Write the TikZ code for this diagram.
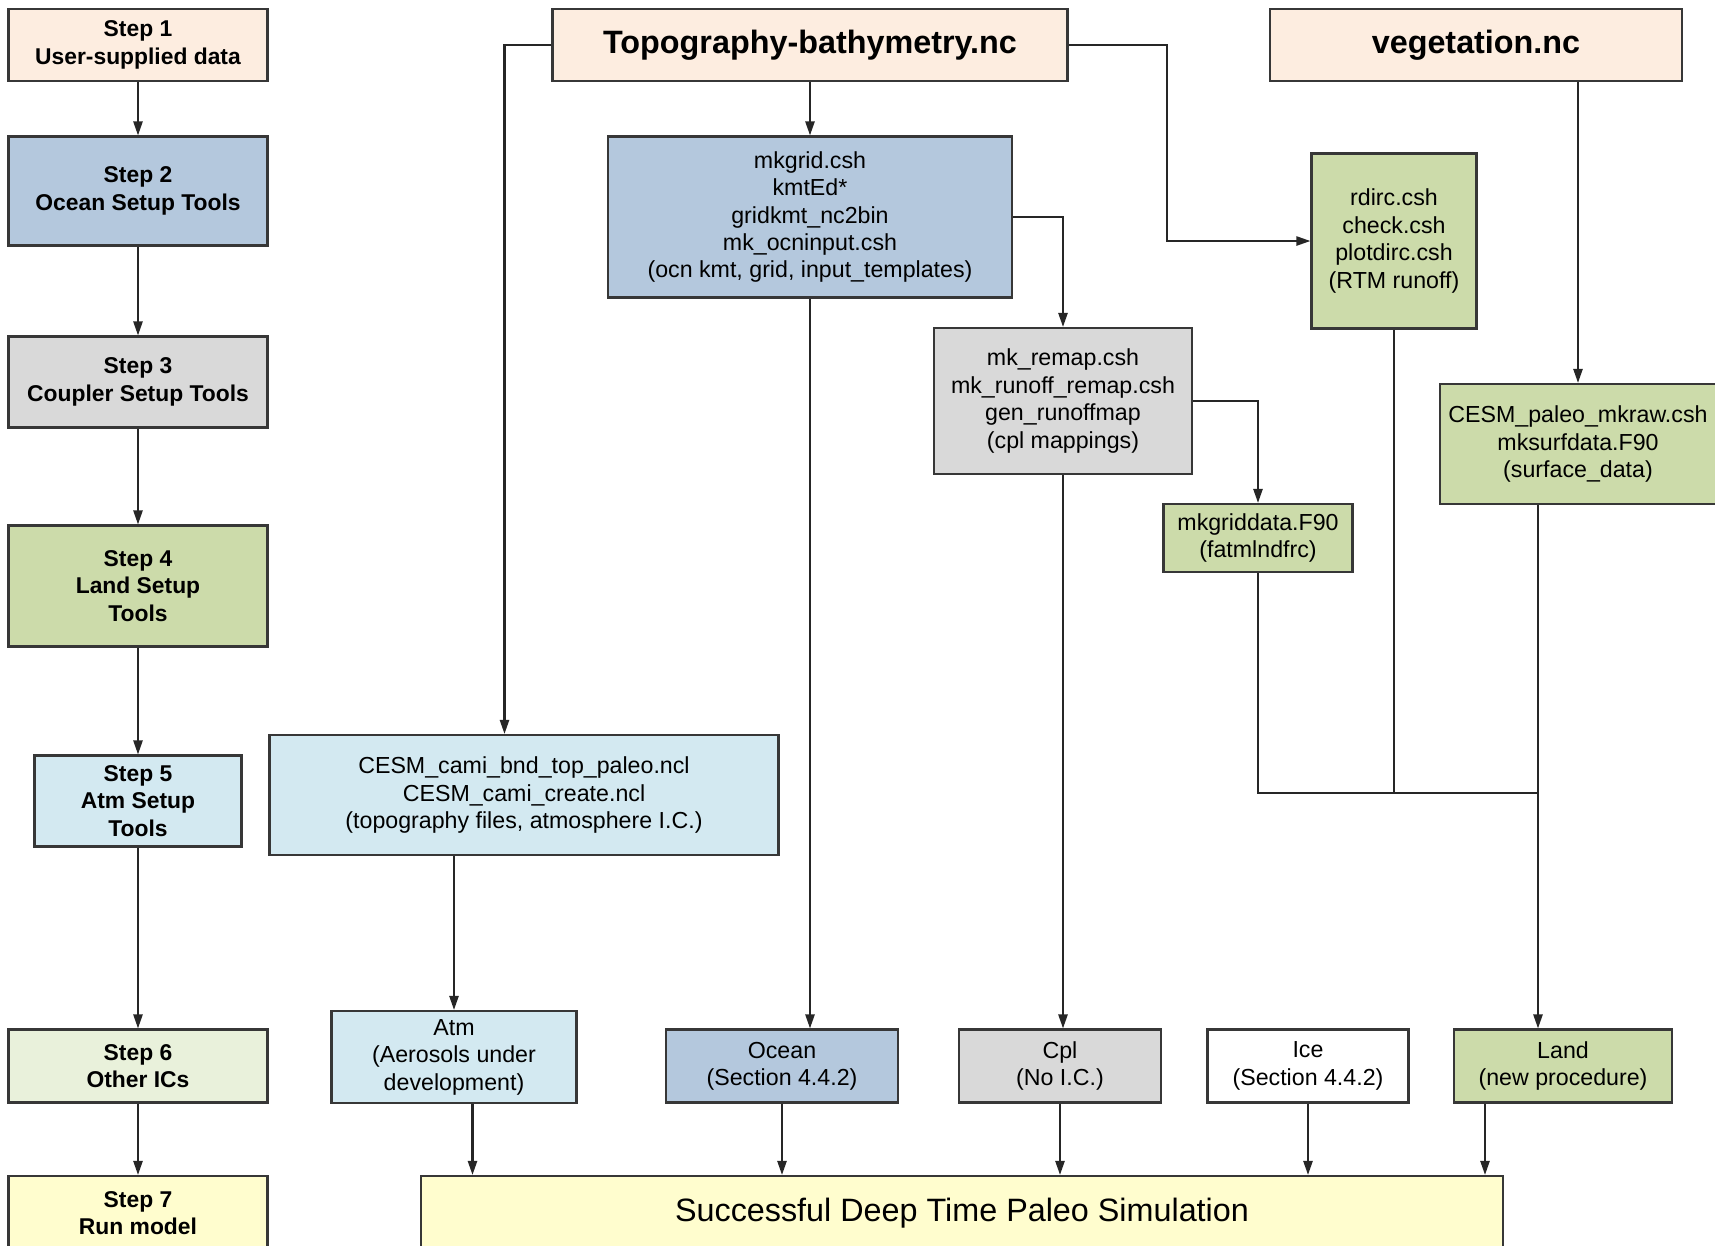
\documentclass[tikz,border=0pt]{standalone}
\usepackage{fontspec}
\setmainfont{Liberation Sans}
\usetikzlibrary{arrows.meta}

\definecolor{peach}{RGB}{253,237,224}
\definecolor{oceanblue}{RGB}{180,200,221}
\definecolor{cplgray}{RGB}{217,217,217}
\definecolor{landgreen}{RGB}{204,219,170}
\definecolor{atmblue}{RGB}{211,233,241}
\definecolor{icgreen}{RGB}{233,241,219}
\definecolor{runyellow}{RGB}{255,253,206}
\definecolor{edge}{RGB}{55,55,55}

\begin{document}
\begin{tikzpicture}[x=0.1mm, y=-0.1mm,
	every node/.style={draw=edge, line width=0.6pt, align=center, inner sep=0pt, font=\fontsize{6.6}{7.8}\selectfont},
	stepbox/.style={minimum width=25.9mm, font=\fontsize{6.5}{7.8}\selectfont\bfseries},
	title/.style={font=\fontsize{9.2}{11}\selectfont\bfseries},
	conn/.style={-{Triangle[length=4pt,width=2.6pt]}, line width=0.6pt, black!85},
	link/.style={line width=0.6pt, black!85}]

			\useasboundingbox (0,0) rectangle (1715,1245);

			% Steps
			\node[stepbox, fill=peach, minimum height=7.2mm]     (step1) at (138,45)   {Step 1\\User-supplied data};
			\node[stepbox, fill=oceanblue, minimum height=10.9mm] (step2) at (138,191)  {Step 2\\Ocean Setup Tools};
			\node[stepbox, fill=cplgray, minimum height=9.1mm]    (step3) at (138,382)  {Step 3\\Coupler Setup Tools};
			\node[stepbox, fill=landgreen, minimum height=12.1mm] (step4) at (138,586)  {Step 4\\Land Setup\\Tools};
			\node[stepbox, fill=atmblue, minimum width=20.7mm, minimum height=9.1mm] (step5) at (138,801) {Step 5\\Atm Setup\\Tools};
			\node[stepbox, fill=icgreen, minimum height=7.3mm]    (step6) at (138,1066) {Step 6\\Other ICs};
			\node[stepbox, fill=runyellow, minimum height=7.4mm]  (step7) at (138,1213) {Step 7\\Run model};

			% Input files
			\node[title, fill=peach, minimum width=51.5mm, minimum height=7.2mm] (topo) at (810,45)  {Topography-bathymetry.nc};
			\node[title, fill=peach, minimum width=41.2mm, minimum height=7.2mm] (veg)  at (1476,45) {vegetation.nc};

			% Tools
			\node[fill=oceanblue, minimum width=40.4mm, minimum height=16.1mm] (mkgrid) at (810,217) {mkgrid.csh\\kmtEd*\\gridkmt\_nc2bin\\mk\_ocninput.csh\\(ocn kmt, grid, input\_templates)};
			\node[fill=landgreen, minimum width=16.5mm, minimum height=17.5mm] (rdirc) at (1394,241) {rdirc.csh\\check.csh\\plotdirc.csh\\(RTM runoff)};
			\node[fill=cplgray, minimum width=25.8mm, minimum height=14.6mm]   (remap) at (1063,401) {mk\_remap.csh\\mk\_runoff\_remap.csh\\gen\_runoffmap\\(cpl mappings)};
			\node[fill=landgreen, minimum width=27.6mm, minimum height=12.0mm] (paleo) at (1578,444) {CESM\_paleo\_mkraw.csh\\mksurfdata.F90\\(surface\_data)};
			\node[fill=landgreen, minimum width=18.9mm, minimum height=6.8mm]  (griddata) at (1258,538) {mkgriddata.F90\\(fatmlndfrc)};
			\node[fill=atmblue, minimum width=50.9mm, minimum height=12.0mm]   (cami) at (524,795) {CESM\_cami\_bnd\_top\_paleo.ncl\\CESM\_cami\_create.ncl\\(topography files, atmosphere I.C.)};

			% Components
			\node[fill=atmblue, minimum width=24.5mm, minimum height=9.2mm]   (atm)   at (454,1057)  {Atm\\(Aerosols under\\development)};
			\node[fill=oceanblue, minimum width=23.2mm, minimum height=7.3mm] (ocean) at (782,1066)  {Ocean\\(Section 4.4.2)};
			\node[fill=cplgray, minimum width=20.2mm, minimum height=7.3mm]   (cpl)   at (1060,1066) {Cpl\\(No I.C.)};
			\node[fill=white, minimum width=20.1mm, minimum height=7.3mm]     (ice)   at (1308,1066) {Ice\\(Section 4.4.2)};
			\node[fill=landgreen, minimum width=21.8mm, minimum height=7.3mm] (land)  at (1563,1066) {Land\\(new procedure)};
			\node[fill=runyellow, minimum width=108.2mm, minimum height=7.4mm, font=\fontsize{9.2}{11}\selectfont] (sim) at (962,1213) {Successful Deep Time Paleo Simulation};

			% Connector ends
			\coordinate (camiin)  at ([xshift=-1.95mm]cami.north);
			\coordinate (atmout)  at ([xshift=1.85mm]atm.south);
			\coordinate (landout) at ([xshift=-7.8mm]land.south);
			\coordinate (merge)   at (1538,793);

			% Arrows steps
			\draw[conn] (step1) -- (step2);
			\draw[conn] (step2) -- (step3);
			\draw[conn] (step3) -- (step4);
			\draw[conn] (step4) -- (step5);
			\draw[conn] (step5) -- (step6);
			\draw[conn] (step6) -- (step7);
			% Arrows topo
			\draw[conn] (topo.west) -| (camiin);
			\draw[conn] (topo) -- (mkgrid);
			\draw[conn] (topo.east) -- ++(98,0) |- (rdirc.west);
			% Arrows vegetation
			\draw[conn] (veg.south -| paleo.north) -- (paleo.north);
			% Arrows tools
			\draw[conn] (mkgrid.east) -| (remap.north);
			\draw[conn] (mkgrid.south) -- (mkgrid.south |- ocean.north);
			\draw[conn] (remap.east) -| (griddata.north);
			\draw[conn] (remap.south) -- (remap.south |- cpl.north);
			\draw[conn] (cami.south -| atm.north) -- (atm.north);
			% Land merge
			\draw[link] (griddata.south) |- (merge);
			\draw[link] (rdirc.south) -- (rdirc.south |- merge);
			\draw[conn] (merge |- paleo.south) -- (merge |- land.north);
			% Arrows simulation
			\draw[conn] (atmout) -- (atmout |- sim.north);
			\draw[conn] (ocean.south) -- (ocean.south |- sim.north);
			\draw[conn] (cpl.south) -- (cpl.south |- sim.north);
			\draw[conn] (ice.south) -- (ice.south |- sim.north);
			\draw[conn] (landout) -- (landout |- sim.north);
\end{tikzpicture}
\end{document}
